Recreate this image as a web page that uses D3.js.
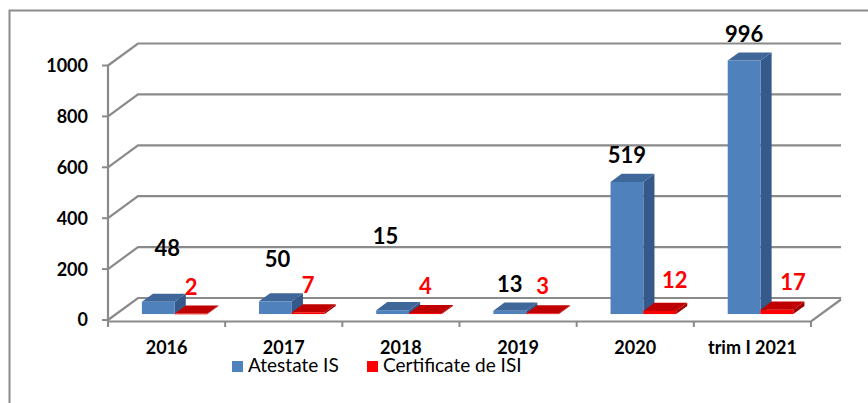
<!DOCTYPE html>
<html><head><meta charset="utf-8">
<script src="https://cdn.jsdelivr.net/npm/d3@7"></script>
<style>body{margin:0;background:#fff} svg{display:block}</style>
</head><body>
<script>
const categories = ["2016","2017","2018","2019","2020","trim I 2021"];
const atestate = [48,50,15,13,519,996];
const certificate = [2,7,4,3,12,17];
const seriesNames = ["Atestate IS","Certificate de ISI"];
const yTicks = [0,200,400,600,800,1000];
// label nudges (layout only, px)
const atestateLabelShift = [[9,-27],[2,-15],[-7,-47],[0,0],[0,0],[0,0]];
const certLabelShift = [[0,0],[0,0],[0,0],[0,0],[15,-4],[16,-1]];

const W = 868, H = 403;
const svg = d3.select("body").append("svg").attr("width", W).attr("height", H);
const font = "Lato, 'Open Sans', sans-serif";
const grid = "#8a8a8a";

svg.append("rect").attr("x", 9.5).attr("y", 10.5).attr("width", 950).attr("height", 500)
  .attr("fill", "none").attr("stroke", "#8c8c8c").attr("stroke-width", 2);

const y = d3.scaleLinear().domain([0, 1000]).range([320, 65.5]);
const x = d3.scaleBand().domain(categories).range([108, 811]).padding(0);
const DX = 30, DY = -22;
const bw = x.bandwidth();

// walls gridlines
const g = svg.append("g");
yTicks.forEach(t => {
  g.append("polyline")
    .attr("points", [[108, y(t)], [108 + DX, y(t) + DY], [811 + DX, y(t) + DY]].map(p => p.join(",")).join(" "))
    .attr("fill", "none").attr("stroke", grid).attr("stroke-width", 2.2);
  g.append("line").attr("x1", 102).attr("x2", 108).attr("y1", y(t)).attr("y2", y(t))
    .attr("stroke", grid).attr("stroke-width", 2);
  g.append("text").attr("x", 88).attr("y", y(t)).attr("dy", "0.36em")
    .attr("text-anchor", "end").attr("font-family", font).attr("font-weight", "bold")
    .attr("font-size", 18).attr("fill", "#000").text(t);
});
// front vertical axis
g.append("line").attr("x1", 108).attr("x2", 108).attr("y1", y(1000)).attr("y2", 327)
  .attr("stroke", grid).attr("stroke-width", 2.2);
// floor edges
g.append("polyline")
  .attr("points", [[108, y(0) + 1.5], [811, y(0) + 1.5], [811 + DX, y(0) + DY + 1.5]].map(p => p.join(",")).join(" "))
  .attr("fill", "none").attr("stroke", grid).attr("stroke-width", 2.2);
// category ticks
for (let k = 1; k <= categories.length; k++) {
  const xx = 108 + k * bw;
  g.append("line").attr("x1", xx).attr("x2", xx).attr("y1", y(0) + 1.5).attr("y2", 327)
    .attr("stroke", grid).attr("stroke-width", 2);
}
categories.forEach(c => {
  g.append("text").attr("x", x(c) + bw / 2).attr("y", 354).attr("text-anchor", "middle")
    .attr("font-family", font).attr("font-weight", "bold").attr("font-size", 18).attr("fill", "#000").text(c);
});

// bars
const fd = 0.27, bd = 0.37;
const palettes = [
  {front: "#4F81BD", top: "#3F679A", side: "#34598A"},
  {front: "#FF0000", top: "#C00000", side: "#A00000"}
];
const series = [atestate, certificate];
const shifts = [atestateLabelShift, certLabelShift];
const labelColors = ["#000", "#FF0000"];
const bars = svg.append("g");
const labels = svg.append("g");
categories.forEach((c, k) => {
  series.forEach((vals, s) => {
    const v = vals[k];
    const pal = palettes[s];
    const w = bw * 0.28;
    const x0 = x(c) + bw * 0.22 + s * w + DX * fd;
    const yb = y(0) + DY * fd;
    const yt = y(v) + DY * fd;
    const ox = DX * bd, oy = DY * bd;
    const pts = a => a.map(p => p.join(",")).join(" ");
    bars.append("polygon").attr("points", pts([[x0 + w, yt], [x0 + w + ox, yt + oy], [x0 + w + ox, yb + oy], [x0 + w, yb]]))
      .attr("fill", pal.side);
    bars.append("rect").attr("x", x0).attr("y", yt).attr("width", w).attr("height", Math.max(0.8, yb - yt))
      .attr("fill", pal.front);
    bars.append("polygon").attr("points", pts([[x0, yt], [x0 + ox, yt + oy], [x0 + w + ox, yt + oy], [x0 + w, yt]]))
      .attr("fill", pal.top);
    const sh = shifts[s][k];
    labels.append("text").attr("x", x0 + w / 2 + sh[0]).attr("y", yt - 19 + sh[1])
      .attr("text-anchor", "middle").attr("font-family", font).attr("font-weight", "bold")
      .attr("font-size", 22).attr("fill", labelColors[s]).text(v);
  });
});

// legend
const leg = svg.append("g");
const legX = [232, 367];
seriesNames.forEach((n, i) => {
  leg.append("rect").attr("x", legX[i]).attr("y", 361).attr("width", 11).attr("height", 11)
    .attr("fill", palettes[i].front);
  leg.append("text").attr("x", legX[i] + 16).attr("y", 372).attr("font-family", font)
    .attr("font-size", 19).attr("fill", "#000").text(n);
});
</script>
</body></html>
